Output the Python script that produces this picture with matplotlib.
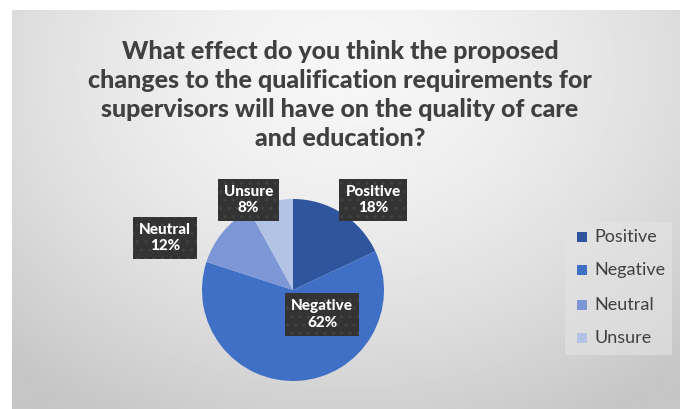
import matplotlib
matplotlib.use("Agg")
import matplotlib.pyplot as plt
import numpy as np
from matplotlib.patches import Rectangle

# survey answers (share of respondents, %)
categories = ["Positive", "Negative", "Neutral", "Unsure"]
shares = [18, 62, 12, 8]
colors = ["#2F559E", "#4070C6", "#7C96D6", "#B2C3E6"]

title = ("What effect do you think the proposed\n"
         "changes to the qualification requirements for\n"
         "supervisors will have on the quality of care\n"
         "and education?")

# where each data label box sits, in pie radius units
label_pos = {
    "Positive": (0.88, 0.99),
    "Negative": (0.32, -0.27),
    "Neutral": (-1.41, 0.57),
    "Unsure": (-0.49, 0.99),
}

W, H = 680, 409
plt.rcParams["font.family"] = ["Lato", "DejaVu Sans"]
plt.rcParams["hatch.linewidth"] = 1.0

fig = plt.figure(figsize=(W / 100, H / 100), dpi=100)
fig.patch.set_facecolor("white")

# chart area: grey radial gradient
bg = fig.add_axes([12 / W, 0, 1 - 12 / W, 1 - 10 / H])
bg.axis("off")
yy, xx = np.mgrid[0:1:200j, 0:1:300j]
r = np.sqrt(((xx - 0.5) / 0.75) ** 2 + ((yy - 0.15) / 1.0) ** 2)
shade = 0.965 - 0.19 * np.clip(r, 0, 1) ** 1.6
bg.imshow(shade, cmap="gray", vmin=0, vmax=1, aspect="auto",
          extent=(0, 1, 1, 0), interpolation="bilinear")
bg.set_xlim(0, 1)
bg.set_ylim(1, 0)

fig.text(340 / W, 1 - 95 / H, title, ha="center", va="center",
         fontsize=18, fontweight="black", color="#404040", linespacing=1.3)

# pie
cx, cy, rad = 293, 290, 91
ax = fig.add_axes([(cx - rad) / W, (H - cy - rad) / H, 2 * rad / W, 2 * rad / H])
ax.pie(shares, colors=colors, startangle=90, counterclock=False,
       wedgeprops=dict(linewidth=0))
ax.set_xlim(-1, 1)
ax.set_ylim(-1, 1)
ax.set_aspect("equal")
ax.axis("off")

for name, val in zip(categories, shares):
    x, y = label_pos[name]
    ax.text(x, y, f"{name}\n{val}%", ha="center", va="center",
            fontsize=11, fontweight="black", color="white", linespacing=1.2,
            clip_on=False,
            bbox=dict(boxstyle="square,pad=0.4", facecolor="#333333",
                      edgecolor="#424242", linewidth=0, hatch=".."))

# legend panel
fig.patches.append(Rectangle((565 / W, 1 - 355 / H), 107 / W, 133 / H,
                             transform=fig.transFigure, facecolor="#e4e4e4",
                             edgecolor="none", alpha=0.6))
leg_y = [237, 270, 305, 338]
for name, col, y in zip(categories, colors, leg_y):
    fig.patches.append(Rectangle((577 / W, 1 - (y + 5) / H), 10 / W, 10 / H,
                                 transform=fig.transFigure, facecolor=col,
                                 edgecolor="none"))
    fig.text(594 / W, 1 - y / H, name, ha="left", va="center",
             fontsize=13, color="#404040")

fig.savefig("out.png", dpi=100)
